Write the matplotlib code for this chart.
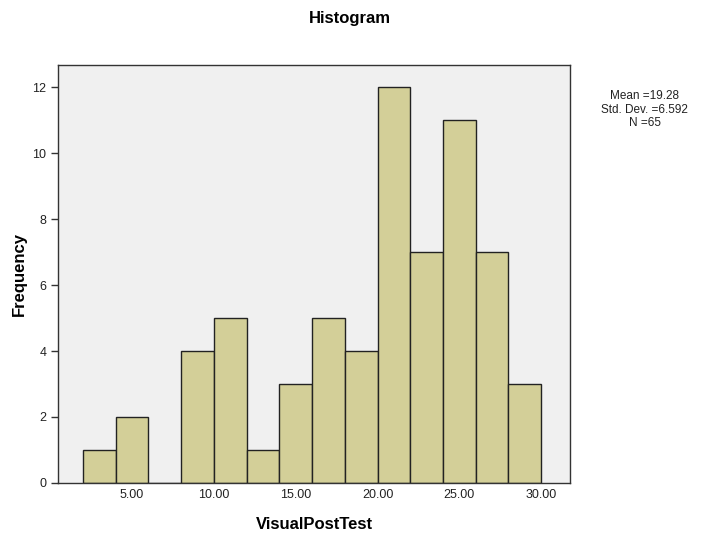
import matplotlib
matplotlib.use("Agg")
import matplotlib.pyplot as plt
import numpy as np

# histogram data (bin width 2)
bin_edges = [2, 4, 6, 8, 10, 12, 14, 16, 18, 20, 22, 24, 26, 28, 30]
counts = [1, 2, 0, 4, 5, 1, 3, 5, 4, 12, 7, 11, 7, 3]
x_ticks = [5, 10, 15, 20, 25, 30]
y_ticks = [0, 2, 4, 6, 8, 10, 12]
stats_lines = ["Mean =19.28", "Std. Dev. =6.592", "N =65"]

plt.rcParams['font.family'] = ['Liberation Sans', 'DejaVu Sans']

fig = plt.figure(figsize=(7.1, 5.4), dpi=100)
ax = fig.add_axes([0.0817, 0.1056, 0.7213, 0.774])
ax.set_facecolor('#F0F0F0')

lefts = np.array(bin_edges[:-1])
widths = np.diff(bin_edges)
ax.bar(lefts, counts, width=widths, align='edge', color='#D3CF98',
       edgecolor='#222222', linewidth=1.0, zorder=2)

ax.set_xlim(0.47, 31.77)
ax.set_ylim(0, 12.67)
ax.set_xticks(x_ticks)
ax.set_xticklabels([f"{v:.2f}" for v in x_ticks])
ax.set_yticks(y_ticks)
ax.tick_params(axis='both', labelsize=9, length=5, width=1, color='#333333', labelcolor='#222222')
ax.tick_params(axis='x', length=0, pad=4)
for s in ax.spines.values():
    s.set_color('#333333')
    s.set_linewidth(1.0)

ax.set_xlabel("VisualPostTest", fontsize=12, fontweight='bold', labelpad=12)
ax.set_ylabel("Frequency", fontsize=12, fontweight='bold', labelpad=4)
fig.text(0.493, 0.965, "Histogram", ha='center', va='center', fontsize=12, fontweight='bold')
fig.text(0.908, 0.797, "\n".join(stats_lines), ha='center', va='center', fontsize=8.5,
         linespacing=1.15, color='#222222')

fig.savefig("out.png", dpi=100)
